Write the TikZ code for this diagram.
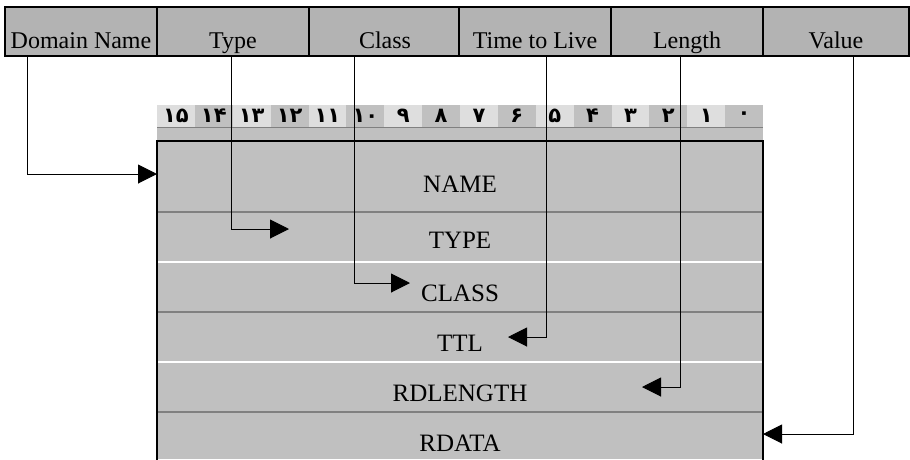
\documentclass[tikz,border=0pt]{standalone}
\usepackage{fontspec}
\setmainfont{Liberation Serif}
\newfontfamily\digitfont{DejaVu Sans}
\usetikzlibrary{arrows.meta,calc}
\definecolor{hdrgray}{HTML}{B3B3B3}
\definecolor{boxgray}{HTML}{C0C0C0}
\definecolor{bitlight}{HTML}{DEDEDE}
\definecolor{bitdark}{HTML}{C0C0C0}
\definecolor{sepgray}{HTML}{808080}
\tikzset{
  hdr/.style={draw=black, line width=1.5pt, fill=hdrgray, minimum width=152pt, minimum height=49pt, inner sep=0pt, text height=33pt, text depth=0pt, font=\fontsize{24}{28}\selectfont},
  rowtxt/.style={inner sep=0pt, font=\fontsize{25}{30}\selectfont},
  bitcell/.style={minimum width=37.875pt, minimum height=22pt, inner sep=0pt, font=\digitfont\bfseries\fontsize{21}{24}\selectfont},
  arr/.style={line width=1pt, -{Triangle[length=19pt,width=19pt]}},
}
\begin{document}
\begin{tikzpicture}[x=1pt,y=-1pt]
\useasboundingbox (0,0) rectangle (910,459);
% header cells
\node[hdr] (h1) at (81,31.5) {Domain Name};
\node[hdr] (h2) at (233,31.5) {Type};
\node[hdr] (h3) at (385,31.5) {Class};
\node[hdr] (h4) at (535,31.5) {Time to Live};
\node[hdr] (h5) at (687,31.5) {Length};
\node[hdr, minimum width=146pt] (h6) at (836,31.5) {Value};
% bit number row
\foreach \i/\d [count=\k from 0] in {15/۱۵,14/۱۴,13/۱۳,12/۱۲,11/۱۱,10/۱۰,9/۹,8/۸,7/۷,6/۶,5/۵,4/۴,3/۳,2/۲,1/۱,0/۰}{
  \pgfmathsetmacro{\cx}{157+37.875*\k+18.94}
  \pgfmathtruncatemacro{\odd}{mod(\k,2)}
  \ifnum\odd=0
    \fill[bitlight] (\cx-18.94,105) rectangle (\cx+18.94,127);
  \else
    \fill[bitdark] (\cx-18.94,105) rectangle (\cx+18.94,127);
  \fi
  \node[bitcell] (b\i) at (\cx,116) {\d};
}
\fill[boxgray] (157,127) rectangle (763,141);
\draw[sepgray, line width=1.2pt] (157,127.5) -- (763,127.5);
% main box
\fill[boxgray] (157,141) rectangle (763,459);
\draw[sepgray, line width=1.5pt] (157,212) -- (763,212);
\draw[white, line width=1.5pt] (157,262) -- (763,262);
\draw[sepgray, line width=1.5pt] (157,312) -- (763,312);
\draw[white, line width=1.5pt] (157,362) -- (763,362);
\draw[sepgray, line width=1.5pt] (157,412) -- (763,412);
\draw[black, line width=1.5pt] (157,460) -- (157,141) -- (763,141) -- (763,460);
% row texts
\node[rowtxt] (rname) at (460,184) {NAME};
\node[rowtxt] (rtype) at (460,240) {TYPE};
\node[rowtxt] (rclass) at (460,293) {CLASS};
\node[rowtxt] (rttl) at (460,343) {TTL};
\node[rowtxt] (rlen) at (460,393) {RDLENGTH};
\node[rowtxt] (rdata) at (460,443) {RDATA};
% arrow targets
\coordinate (tname) at (157,174);
\coordinate (ttype) at (289,229);
\coordinate (tclass) at (410,283);
\coordinate (tttl) at (508,337);
\coordinate (tlen) at (642,387);
\coordinate (tdata) at (763,434);
% connectors
\draw[arr] ($(h1.south west)+(23,0)$) |- (tname);
\draw[arr] ($(h2.south west)+(75,0)$) |- (ttype);
\draw[arr] ($(h3.south west)+(46,0)$) |- (tclass);
\draw[arr] ($(h4.south west)+(88,0)$) |- (tttl);
\draw[arr] ($(h5.south west)+(70,0)$) |- (tlen);
\draw[arr] ($(h6.south west)+(91,0)$) |- (tdata);
\end{tikzpicture}
\end{document}
